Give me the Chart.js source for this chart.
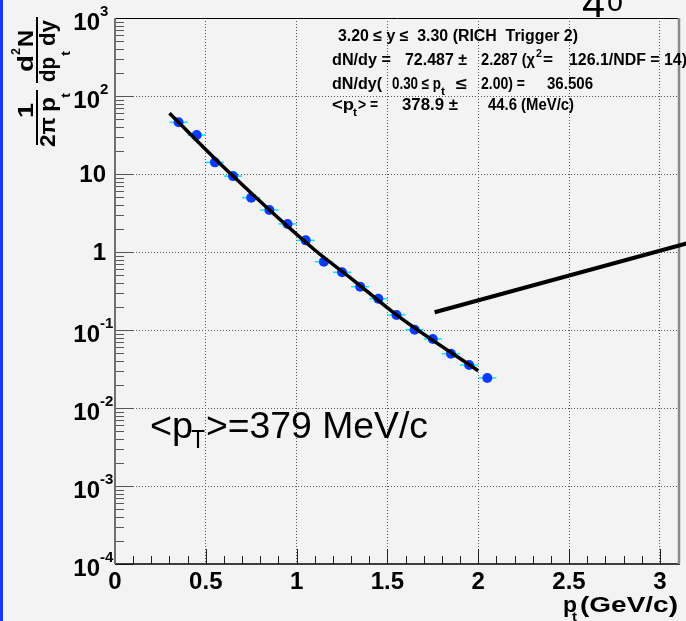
<!DOCTYPE html>
<html lang="en">
<head>
  <meta charset="UTF-8">
  <title>pt spectrum at 4 deg</title>
  <script src="https://cdn.jsdelivr.net/npm/chart.js"></script>
  <style>
    html, body {
      margin: 0;
      padding: 0;
      background-color: #f3f3f3;
    }
    #spectrum {
      display: block;
    }
  </style>
</head>
<body>
  <canvas id="spectrum" width="686" height="621"></canvas>

  <script>
    // measured invariant yields, bin centres in GeV/c
    const ptBins = [0.35, 0.45, 0.55, 0.65, 0.75, 0.85, 0.95, 1.05, 1.15, 1.25,
                    1.35, 1.45, 1.55, 1.65, 1.75, 1.85, 1.95, 2.05];
    const yields = [46, 31.6, 14.1, 9.4, 4.97, 3.45, 2.29, 1.41, 0.75, 0.549,
                    0.359, 0.252, 0.156, 0.101, 0.0767, 0.0497, 0.0356, 0.0243];
    const binHalfWidth = 0.05;

    // fit curve
    const fitPt  = [0.30, 0.65, 1.10, 1.30, 1.55, 2.00];
    const fitVal = [60, 9.4, 1.06, 0.46, 0.156, 0.030];

    // the pointer line from the slide
    const arrowPt  = [1.76, 3.15];
    const arrowVal = [0.169, 1.29];

    const xTickLabels = ['0', '0.5', '1', '1.5', '2', '2.5', '3'];
    const yDecades    = [1e-4, 1e-3, 1e-2, 1e-1, 1, 10, 100, 1000];
    const yTickLabels = [['10', '-4'], ['10', '-3'], ['10', '-2'], ['10', '-1'],
                         ['1', ''], ['10', ''], ['10', '2'], ['10', '3']];

    const FONT = '"Liberation Sans", Arial, sans-serif';

    function isDecade(v) {
      const l = Math.log10(v);
      return Math.abs(l - Math.round(l)) < 1e-6;
    }

    // draw text squeezed/stretched to a measured span
    function fitText(ctx, text, x0, x1, y, font) {
      ctx.font = font;
      const w = ctx.measureText(text).width;
      ctx.save();
      ctx.translate(x0, y);
      ctx.scale((x1 - x0) / w, 1);
      ctx.textAlign = 'left';
      ctx.textBaseline = 'alphabetic';
      ctx.fillText(text, 0, 0);
      ctx.restore();
    }

    const rootStyle = {
      id: 'rootStyle',
      beforeDraw(chart) {
        const ctx = chart.ctx;
        ctx.save();
        ctx.fillStyle = '#f3f3f3';
        ctx.fillRect(0, 0, chart.width, chart.height);
        ctx.fillStyle = '#1438ff';
        ctx.fillRect(0, 0, 3, chart.height);
        ctx.restore();
      },
      beforeDatasetsDraw(chart) {
        // horizontal bin-width bars
        const ctx = chart.ctx, xs = chart.scales.x, ys = chart.scales.y;
        ctx.save();
        ctx.strokeStyle = '#00e8ff';
        ctx.lineWidth = 1.5;
        ptBins.forEach((pt, i) => {
          const py = ys.getPixelForValue(yields[i]);
          ctx.beginPath();
          ctx.moveTo(xs.getPixelForValue(pt - binHalfWidth), py);
          ctx.lineTo(xs.getPixelForValue(pt + binHalfWidth), py);
          ctx.stroke();
        });
        ctx.restore();
      },
      afterDraw(chart) {
        const ctx = chart.ctx, xs = chart.scales.x, ys = chart.scales.y;
        const a = chart.chartArea;
        ctx.save();

        // inward tick marks
        ctx.strokeStyle = '#555';
        ctx.lineWidth = 1;
        ys.ticks.forEach(t => {
          const py = Math.round(ys.getPixelForValue(t.value)) + 0.5;
          const len = isDecade(t.value) ? 18 : 9;
          ctx.beginPath();
          ctx.moveTo(a.left, py);
          ctx.lineTo(a.left + len, py);
          ctx.stroke();
        });
        ctx.strokeStyle = '#222';
        xs.ticks.forEach((t, i) => {
          const px = Math.round(xs.getPixelForValue(t.value)) + 0.5;
          const len = i % 5 === 0 ? 15 : 8;
          ctx.beginPath();
          ctx.moveTo(px, a.bottom);
          ctx.lineTo(px, a.bottom - len);
          ctx.stroke();
        });

        // frame
        ctx.strokeStyle = '#000';
        ctx.lineWidth = 1;
        ctx.beginPath();
        ctx.moveTo(a.left, a.top + 0.5);
        ctx.lineTo(a.right + 2, a.top + 0.5);
        ctx.stroke();
        ctx.lineWidth = 1.5;
        ctx.beginPath();
        ctx.moveTo(a.left, a.bottom);
        ctx.lineTo(a.right + 2, a.bottom);
        ctx.stroke();
        ctx.strokeStyle = '#707070';
        ctx.lineWidth = 2;
        ctx.beginPath();
        ctx.moveTo(a.left, a.top);
        ctx.lineTo(a.left, a.bottom);
        ctx.stroke();
        ctx.strokeStyle = '#8a8a8a';
        ctx.lineWidth = 2.5;
        ctx.beginPath();
        ctx.moveTo(a.right + 1, a.top);
        ctx.lineTo(a.right + 1, a.bottom);
        ctx.stroke();

        // y tick labels with exponents
        ctx.fillStyle = '#000';
        ctx.textBaseline = 'middle';
        yDecades.forEach((v, i) => {
          const py = ys.getPixelForValue(v);
          const [base, sup] = yTickLabels[i];
          if (sup) {
            ctx.font = 'bold 24px ' + FONT;
            ctx.textAlign = 'right';
            ctx.fillText(base, 100, py + 5);
            ctx.font = 'bold 15px ' + FONT;
            ctx.textAlign = 'left';
            ctx.fillText(sup, 100, py - 6);
          } else {
            ctx.font = 'bold 24px ' + FONT;
            ctx.textAlign = 'right';
            ctx.fillText(base, 106, py + 1);
          }
        });

        // pointer line
        ctx.strokeStyle = '#000';
        ctx.lineWidth = 4;
        ctx.beginPath();
        ctx.moveTo(xs.getPixelForValue(arrowPt[0]), ys.getPixelForValue(arrowVal[0]));
        ctx.lineTo(xs.getPixelForValue(arrowPt[1]), ys.getPixelForValue(arrowVal[1]));
        ctx.stroke();

        // fit result box
        const b16 = 'bold 16px ' + FONT, b10 = 'bold 10px ' + FONT;
        fitText(ctx, '3.20 \u2264 y \u2264  3.30 (RICH  Trigger 2)', 338, 578, 41, b16);
        fitText(ctx, 'dN/dy =', 332, 391, 64.5, b16);
        fitText(ctx, '72.487 \u00b1', 405, 467, 64.5, b16);
        fitText(ctx, '2.287 (\u03c7', 481, 535, 64.5, b16);
        fitText(ctx, '2', 536, 542, 57, b10);
        fitText(ctx, '=', 543, 553, 64.5, b16);
        fitText(ctx, '126.1/NDF = 14)', 569, 687, 64.5, b16);
        fitText(ctx, 'dN/dy(', 332, 382, 88.5, b16);
        fitText(ctx, '0.30 \u2264 p', 392, 441, 88.5, b16);
        fitText(ctx, 't', 441, 445, 95, b10);
        fitText(ctx, '\u2264', 456, 467, 88.5, b16);
        fitText(ctx, '2.00) =', 481, 525, 88.5, b16);
        fitText(ctx, '36.506', 547, 593, 88.5, b16);
        fitText(ctx, '<p', 332, 354, 110, b16);
        fitText(ctx, 't', 353, 357, 116, b10);
        fitText(ctx, '> =', 358, 378, 110, b16);
        fitText(ctx, '378.9 \u00b1', 402, 458, 110, b16);
        fitText(ctx, '44.6 (MeV/c)', 488, 574, 110, b16);

        // mean pt note
        fitText(ctx, '<p', 150, 193, 438, '37px ' + FONT);
        fitText(ctx, 'T', 191, 205, 448, '26px ' + FONT);
        fitText(ctx, '>=379 MeV/c', 206, 428, 438, '37px ' + FONT);

        // clipped slide title
        fitText(ctx, '4', 582, 605, 17, '40px ' + FONT);
        fitText(ctx, 'o', 607, 623, 11, '32px ' + FONT);

        // x axis title
        const b22 = 'bold 22px ' + FONT;
        fitText(ctx, 'p', 563, 577, 612, b22);
        fitText(ctx, 't', 572, 577, 621, 'bold 13px ' + FONT);
        fitText(ctx, '(GeV/c)', 580, 678, 612, b22);

        // y axis title, rotated; local x = -imageY, local y = imageX
        ctx.save();
        ctx.rotate(-Math.PI / 2);
        fitText(ctx, '1', -118, -103, 33, b22);
        fitText(ctx, '2\u03c0', -147, -117, 55, b22);
        fitText(ctx, 'p', -112, -97, 55, b22);
        fitText(ctx, 't', -98, -93, 70, 'bold 13px ' + FONT);
        fitText(ctx, 'd', -72, -55, 33, b22);
        fitText(ctx, '2', -55, -48, 20, 'bold 13px ' + FONT);
        fitText(ctx, 'N', -47, -30, 33, b22);
        fitText(ctx, 'dp', -82, -57, 55, b22);
        fitText(ctx, 't', -56, -51, 70, 'bold 13px ' + FONT);
        fitText(ctx, 'dy', -46, -20, 55, b22);
        ctx.fillStyle = '#000';
        ctx.fillRect(-145, 36, 55, 2);
        ctx.fillRect(-83, 36, 66, 2);
        ctx.restore();

        ctx.restore();
      }
    };

    const ctx = document.getElementById('spectrum').getContext('2d');
    const spectrumChart = new Chart(ctx, {
      type: 'scatter',
      data: {
        datasets: [
          {
            label: 'fit',
            data: fitPt.map((x, i) => ({ x: x, y: fitVal[i] })),
            showLine: true,
            borderColor: '#000',
            borderWidth: 3.5,
            pointRadius: 0,
            cubicInterpolationMode: 'monotone',
            fill: false
          },
          {
            label: 'data',
            data: ptBins.map((x, i) => ({ x: x, y: yields[i] })),
            showLine: false,
            pointRadius: 5,
            pointHoverRadius: 5,
            pointBackgroundColor: '#0a3cff',
            pointBorderWidth: 0
          }
        ]
      },
      options: {
        responsive: false,
        animation: false,
        events: [],
        layout: { padding: { top: 18, right: 8, left: 0, bottom: 0 } },
        plugins: {
          legend: { display: false },
          tooltip: { enabled: false }
        },
        scales: {
          x: {
            type: 'linear',
            min: 0,
            max: 3.1,
            afterBuildTicks: s => {
              const t = [];
              for (let i = 0; i <= 30; i++) t.push({ value: i / 10 });
              s.ticks = t;
            },
            afterFit: s => { s.height = 57; },
            border: { display: false, dash: [1, 2] },
            grid: {
              drawTicks: false,
              lineWidth: 1,
              color: c => (c.tick && c.index % 5 === 0 && c.index > 0) ? '#555' : 'rgba(0,0,0,0)'
            },
            ticks: {
              autoSkip: false,
              maxRotation: 0,
              padding: 4,
              color: '#000',
              font: { family: FONT, size: 24, weight: 'bold' },
              callback: (v, i) => (i % 5 === 0 ? xTickLabels[i / 5] : '')
            }
          },
          y: {
            type: 'logarithmic',
            min: 1e-4,
            max: 1e3,
            afterBuildTicks: s => {
              const t = [];
              for (let e = -4; e <= 2; e++) {
                for (let k = 1; k <= 9; k++) t.push({ value: k * Math.pow(10, e) });
              }
              t.push({ value: 1e3 });
              s.ticks = t;
            },
            afterFit: s => { s.width = 115; },
            border: { display: false, dash: [1, 2] },
            grid: {
              drawTicks: false,
              lineWidth: 1,
              color: c => (c.tick && isDecade(c.tick.value) && c.tick.value > 1e-4 && c.tick.value < 1e3) ? '#555' : 'rgba(0,0,0,0)'
            },
            ticks: { display: false }
          }
        }
      },
      plugins: [rootStyle]
    });
  </script>
</body>
</html>
